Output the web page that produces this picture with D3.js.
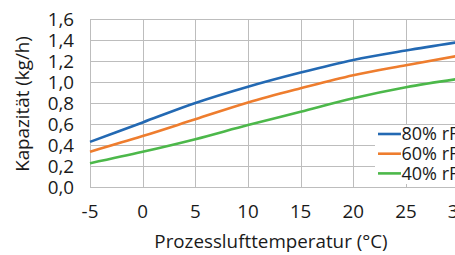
<!DOCTYPE html>
<html>
<head>
<meta charset="utf-8">
<script src="https://cdn.jsdelivr.net/npm/d3@7"></script>
<style>
  html, body { margin: 0; padding: 0; background: #fff; }
  text { font-family: "Open Sans", sans-serif; fill: #1a1a1a; }
</style>
</head>
<body>
<svg id="chart" width="455" height="255"></svg>
<script>
// temperatures (°C)
var temps = [-5, 0, 5, 10, 15, 20, 25, 30];
// capacity (kg/h) per relative humidity
var rh80 = [0.43, 0.615, 0.80, 0.955, 1.09, 1.21, 1.30, 1.38];
var rh60 = [0.336, 0.485, 0.645, 0.805, 0.94, 1.065, 1.16, 1.25];
var rh40 = [0.226, 0.335, 0.455, 0.59, 0.717, 0.845, 0.95, 1.03];
var seriesNames = ["80% rF", "60% rF", "40% rF"];
var seriesColors = ["#2369b3", "#ee7d2e", "#4cb84a"];
var xTicks = [-5, 0, 5, 10, 15, 20, 25, 30];
var yTicks = [0, 0.2, 0.4, 0.6, 0.8, 1.0, 1.2, 1.4, 1.6];

var svg = d3.select("#chart");
var plotL = 90, plotR = 458.6, plotT = 19, plotB = 187;
var fontSize = "18.8px";

var x = d3.scaleLinear().domain([-5, 30]).range([plotL, plotR]);
var y = d3.scaleLinear().domain([0, 1.6]).range([plotB, plotT]);

var fmt = function (v) { return d3.format(".1f")(v).replace(".", ","); };

// gridlines
var grid = svg.append("g");
grid.selectAll(".hg").data(yTicks).enter().append("line")
    .attr("x1", plotL).attr("x2", plotR)
    .attr("y1", function (d) { return Math.round(y(d)) + 0.5; })
    .attr("y2", function (d) { return Math.round(y(d)) + 0.5; })
    .attr("stroke", "#bdbdbd").attr("stroke-width", 1);
grid.selectAll(".vg").data(xTicks).enter().append("line")
    .attr("y1", plotT).attr("y2", plotB)
    .attr("x1", function (d) { return Math.round(x(d)) + 0.5; })
    .attr("x2", function (d) { return Math.round(x(d)) + 0.5; })
    .attr("stroke", "#bdbdbd").attr("stroke-width", 1);

// y axis labels
svg.append("g").selectAll("text").data(yTicks).enter().append("text")
    .attr("x", 74).attr("y", function (d) { return y(d); })
    .attr("dy", "0.35em").attr("text-anchor", "end")
    .style("font-size", fontSize)
    .text(fmt);

// x axis labels
svg.append("g").selectAll("text").data(xTicks).enter().append("text")
    .attr("x", function (d) { return x(d); }).attr("y", 218)
    .attr("text-anchor", "middle")
    .style("font-size", fontSize)
    .text(function (d) { return d; });

// axis titles
svg.append("text").attr("x", 271).attr("y", 248)
    .attr("text-anchor", "middle").style("font-size", fontSize)
    .text("Prozesslufttemperatur (°C)");
svg.append("text")
    .attr("transform", "translate(29,104) rotate(-90)")
    .attr("text-anchor", "middle").style("font-size", fontSize)
    .text("Kapazität (kg/h)");

// lines
var allSeries = [rh80, rh60, rh40];
var line = d3.line()
    .x(function (d, i) { return x(temps[i]); })
    .y(function (d) { return y(d); })
    .curve(d3.curveMonotoneX);
svg.append("g").selectAll("path").data(allSeries).enter().append("path")
    .attr("d", line)
    .attr("fill", "none")
    .attr("stroke", function (d, i) { return seriesColors[i]; })
    .attr("stroke-width", 2.6);

// legend
var lg = svg.append("g");
lg.append("rect").attr("x", 375).attr("y", 125).attr("width", 90).attr("height", 59)
    .attr("fill", "#fff");
var rows = lg.selectAll(".row").data(seriesNames).enter().append("g")
    .attr("transform", function (d, i) { return "translate(0," + (134 + i * 19.7) + ")"; });
rows.append("line").attr("x1", 378).attr("x2", 401).attr("y1", 0).attr("y2", 0)
    .attr("stroke", function (d, i) { return seriesColors[i]; })
    .attr("stroke-width", 2.6);
rows.append("text").attr("x", 401.5).attr("y", 0).attr("dy", "0.35em")
    .style("font-size", "18px")
    .text(function (d) { return d; });
</script>
</body>
</html>
